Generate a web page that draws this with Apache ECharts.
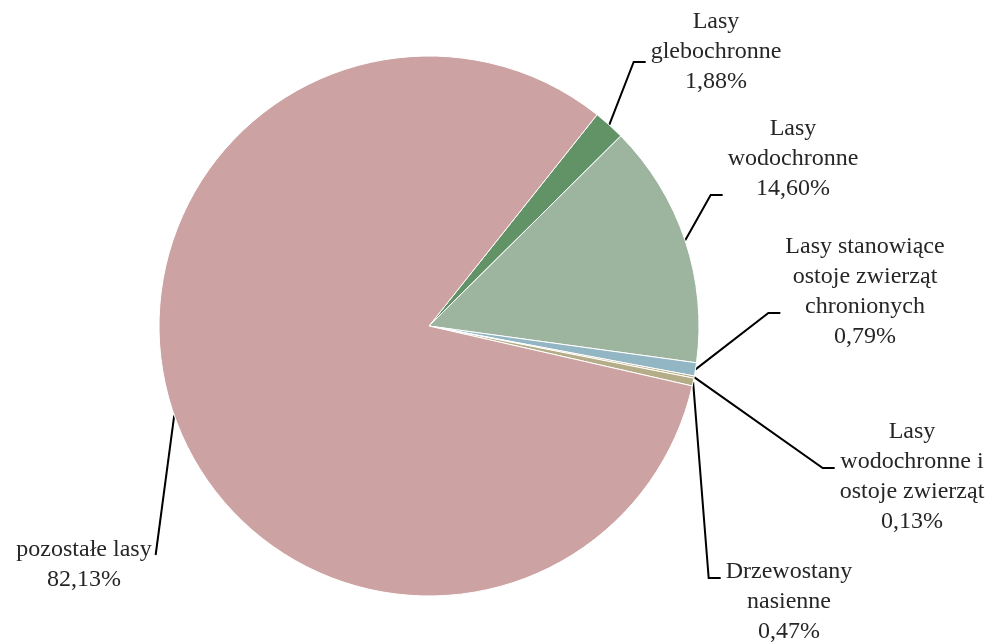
<!DOCTYPE html>
<html>
<head>
<meta charset="utf-8">
<script src="https://cdn.jsdelivr.net/npm/echarts@6/dist/echarts.min.js"></script>
<style>
	html, body { margin: 0; padding: 0; background: #fff; }
	#chart { width: 997px; height: 644px; }
</style>
</head>
<body>
<div id="chart"></div>
<script>
// kategorie (z łamaniem linii jak na wykresie)
var categories = [
	'Lasy\nglebochronne',
	'Lasy\nwodochronne',
	'Lasy stanowiące\nostoje zwierząt\nchronionych',
	'Lasy\nwodochronne i\nostoje zwierząt',
	'Drzewostany\nnasienne',
	'pozostałe lasy'
]
// udział w %
var shares = [1.88, 14.60, 0.79, 0.13, 0.47, 82.13]
var colors = ['#629367', '#9db59f', '#93b6c4', '#b8ac80', '#b5ad87', '#cca2a2']

// położenie etykiet: [środek x, góra y, y dołączenia linii, strona]
var labelPlace = [
	[716, 7, 62, 'r'],
	[793, 114, 195, 'r'],
	[865, 232, 313, 'r'],
	[912, 417, 468, 'r'],
	[789, 557, 578, 'r'],
	[84, 535, 555, 'l']
]

var myChart = echarts.init(document.getElementById('chart'))

var pieData = categories.map(function (name, i) {
	return { name: name, value: shares[i], itemStyle: { color: colors[i] } }
})

myChart.setOption({
	animation: false,
	series: [
		{
			type: 'pie',
			center: [429, 326],
			radius: 270,
			startAngle: 51.5,
			clockwise: true,
			data: pieData,
			itemStyle: {
				borderColor: '#fff',
				borderWidth: 1,
			},
			label: {
				show: true,
				position: 'outside',
				fontFamily: '"Liberation Serif", "DejaVu Serif", serif',
				fontSize: 24,
				lineHeight: 30,
				color: '#262626',
				align: 'center',
				formatter: function (p) {
					return p.name + '\n' + p.value.toFixed(2).replace('.', ',') + '%'
				},
			},
			labelLine: {
				show: true,
				length: 10,
				length2: 10,
				lineStyle: { color: '#000', width: 2 },
			},
			labelLayout: function (params) {
				var pl = labelPlace[params.dataIndex]
				var w = params.labelRect.width
				var a = params.labelLinePoints ? params.labelLinePoints[0] : null
				var pts
				if (pl[3] === 'r') {
					var endX = pl[0] - w / 2 - 5
					pts = [a, [endX - 12, pl[2]], [endX, pl[2]]]
				} else {
					var endX2 = pl[0] + w / 2 + 4
					pts = [a, [endX2, pl[2]], [endX2, pl[2]]]
				}
				var res = {
					x: pl[0],
					y: pl[1],
					align: 'center',
					verticalAlign: 'top',
				}
				if (a) res.labelLinePoints = pts
				return res
			},
		},
	],
})
</script>
</body>
</html>
